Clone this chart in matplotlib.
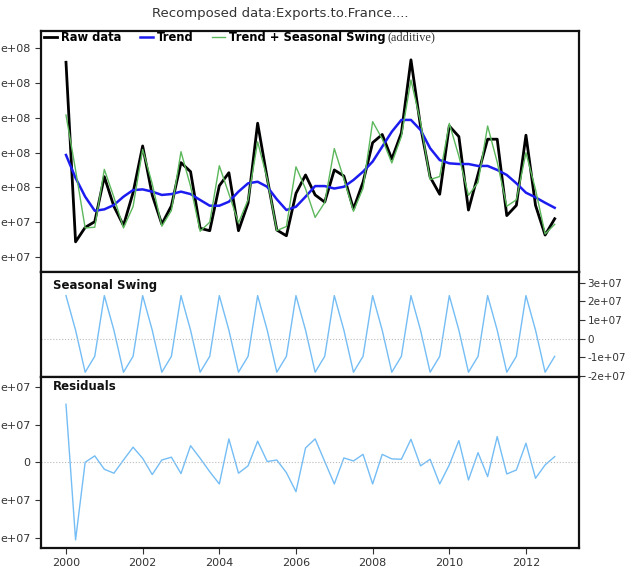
import numpy as np
import matplotlib
matplotlib.use("Agg")
import matplotlib.pyplot as plt

# quarterly series, 2000Q1 .. 2012Q4
years = 2000 + np.arange(52) / 4.0

raw = np.array([17.20, 6.86, 7.69, 8.02, 10.61, 8.90, 7.80, 9.69,
                12.38, 9.55, 7.88, 8.93, 11.42, 10.90, 7.64, 7.50,
                10.09, 10.84, 7.50, 9.09, 13.69, 10.52, 7.54, 7.21,
                9.65, 10.71, 9.56, 9.15, 11.00, 10.65, 8.75, 10.30,
                12.57, 13.04, 11.63, 13.13, 17.34, 13.50, 10.59, 9.60,
                13.53, 12.92, 8.69, 10.75, 12.77, 12.77, 8.37, 8.96,
                13.00, 8.96, 7.25, 8.19]) * 1e7

trend = np.array([11.86, 10.54, 9.46, 8.65, 8.73, 8.98, 9.46, 9.84,
                  9.88, 9.75, 9.56, 9.61, 9.75, 9.61, 9.27, 8.94,
                  8.94, 9.17, 9.75, 10.23, 10.32, 10.03, 9.31, 8.69,
                  8.88, 9.46, 10.07, 10.07, 9.93, 10.03, 10.42, 10.90,
                  11.48, 12.34, 13.20, 13.88, 13.88, 13.30, 12.25, 11.57,
                  11.38, 11.34, 11.34, 11.23, 11.23, 11.00, 10.71, 10.23,
                  9.69, 9.42, 9.11, 8.82]) * 1e7

seasonal_q = [2.30, 0.45, -1.80, -0.95]
seasonal = np.array(seasonal_q * 13) * 1e7

residuals = np.array([3.08, -4.12, 0.00, 0.34, -0.37, -0.58, 0.12, 0.80,
                      0.21, -0.65, 0.12, 0.27, -0.60, 0.88, 0.21, -0.50,
                      -1.15, 1.24, -0.58, -0.19, 1.12, 0.04, 0.12, -0.55,
                      -1.56, 0.76, 1.24, 0.04, -1.15, 0.23, 0.07, 0.42,
                      -1.15, 0.42, 0.18, 0.16, 1.22, -0.19, 0.16, -1.15,
                      -0.14, 1.15, -0.94, 0.51, -0.76, 1.36, -0.62, -0.41,
                      1.01, -0.85, -0.14, 0.30]) * 1e7

xticks = [2000, 2002, 2004, 2006, 2008, 2010, 2012]
top_ticks = [6e7, 8e7, 1e8, 1.2e8, 1.4e8, 1.6e8, 1.8e8]
top_labels = ["e+07", "e+07", "e+08", "e+08", "e+08", "e+08", "e+08"]
seas_ticks = [-2e7, -1e7, 0, 1e7, 2e7, 3e7]
seas_labels = ["-2e+07", "-1e+07", "0", "1e+07", "2e+07", "3e+07"]
res_ticks = [-4e7, -2e7, 0, 2e7, 4e7]
res_labels = ["e+07", "e+07", "0", "e+07", "e+07"]

W, H = 627, 569
fig = plt.figure(figsize=(W / 100, H / 100), dpi=100)

def box(top, bottom):
    return [41 / W, 1 - bottom / H, (579 - 41) / W, (bottom - top) / H]

ax1 = fig.add_axes(box(31, 271.7))
ax2 = fig.add_axes(box(271.7, 376.7))
ax3 = fig.add_axes(box(377.3, 548))

light = "#74bdf5"
tick_kw = dict(labelsize=8, length=4, width=0.8, colors="#333333", direction="out")

l1, = ax1.plot(years, raw, color="black", lw=2.0, label="Raw data")
l2, = ax1.plot(years, trend, color="#1c1cf0", lw=1.8, label="Trend")
l3, = ax1.plot(years, trend + seasonal, color="#5cb85c", lw=1.0, label="Trend + Seasonal Swing")
ax1.set_ylim(5.14e7, 1.90e8)
ax1.set_yticks(top_ticks)
ax1.set_yticklabels(top_labels)

ax2.plot(years, seasonal, color=light, lw=1.0)
ax2.axhline(0, color="#bbbbbb", lw=0.8, ls=":")
ax2.set_ylim(-2.04e7, 3.58e7)
ax2.yaxis.tick_right()
ax2.set_yticks(seas_ticks)
ax2.set_yticklabels(seas_labels)

ax3.plot(years, residuals, color=light, lw=1.0)
ax3.axhline(0, color="#bbbbbb", lw=0.8, ls=":")
ax3.set_ylim(-4.55e7, 4.51e7)
ax3.set_yticks(res_ticks)
ax3.set_yticklabels(res_labels)

for ax in (ax1, ax2, ax3):
    ax.set_xlim(1999.348, 2013.384)
    ax.tick_params(**tick_kw)
    for s in ax.spines.values():
        s.set_linewidth(1.6)
        s.set_color("#111111")
ax1.set_xticks([])
ax2.set_xticks([])
ax2.tick_params(axis="y", labelsize=7.5, pad=2)
ax3.set_xticks(xticks)
ax3.set_xticklabels([str(x) for x in xticks])
ax3.tick_params(axis="x", labelsize=8, pad=3)

ax2.text(12 / 538, 0.93, "Seasonal Swing", transform=ax2.transAxes,
         fontsize=8.5, fontweight="bold", va="top", ha="left", color="#111111")
ax3.text(12 / 538, 0.985, "Residuals", transform=ax3.transAxes,
         fontsize=8.5, fontweight="bold", va="top", ha="left", color="#111111")

leg = ax1.legend(handles=[l1, l2, l3], loc="upper left", bbox_to_anchor=(0.0, 1.015),
                 ncol=3, frameon=False, handlelength=1.1, handletextpad=0.35,
                 columnspacing=1.6, borderaxespad=0.2, borderpad=0.1,
                 prop=dict(weight="bold", size=8.3))

fig.text(280 / W, 1 - 14 / H, "Recomposed data:Exports.to.France....",
         ha="center", va="center", fontsize=9.5, color="#333333")

fig.canvas.draw()
bb = leg.get_texts()[2].get_window_extent()
fig.text(bb.x1 / W + 2 / W, (bb.y0 + bb.y1) / 2 / H, "(additive)",
         family="Liberation Serif", fontsize=8.8, color="#333333", va="center", ha="left")

fig.savefig("out.png", dpi=100)
